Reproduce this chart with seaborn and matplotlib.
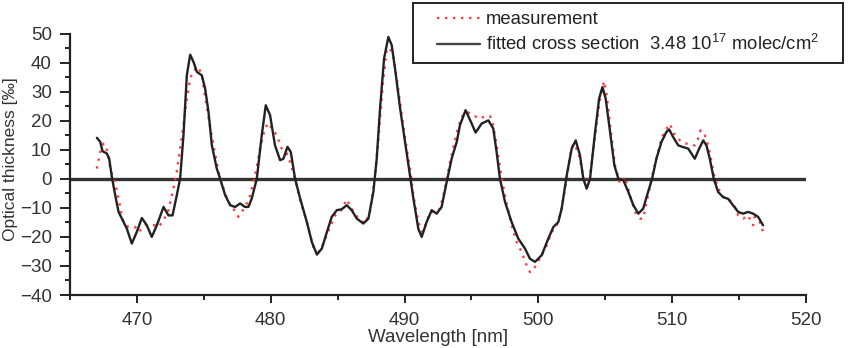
import numpy as np
import pandas as pd
import matplotlib
matplotlib.use("Agg")
import matplotlib.pyplot as plt
from matplotlib.ticker import MultipleLocator
from matplotlib.patches import Rectangle
import seaborn as sns

# ---- data ----
fit_wl = [467.01, 467.26, 467.43, 467.75, 467.93, 468.13, 468.38, 468.63, 469.0, 469.25,
          469.62, 469.99, 470.37, 470.74, 471.11, 471.49, 471.99, 472.36, 472.66, 472.98,
          473.23, 473.48, 473.73, 473.98, 474.23, 474.48, 474.85, 475.1, 475.35, 475.6,
          475.97, 476.22, 476.6, 476.97, 477.34, 477.71, 478.08, 478.33, 478.58, 478.96,
          479.33, 479.63, 479.95, 480.32, 480.7, 480.95, 481.25, 481.5, 481.82, 482.2,
          482.7, 483.07, 483.45, 483.82, 484.2, 484.56, 484.94, 485.3, 485.68, 486.05,
          486.43, 486.92, 487.3, 487.67, 487.92, 488.17, 488.47, 488.79, 489.04, 489.29,
          489.67, 490.04, 490.41, 490.66, 491.03, 491.28, 491.65, 492.03, 492.4, 492.77,
          493.15, 493.52, 493.9, 494.14, 494.56, 494.96, 495.31, 495.76, 496.26, 496.63,
          496.88, 497.13, 497.51, 498.0, 498.5, 499.0, 499.37, 499.75, 500.25, 500.74,
          501.12, 501.49, 501.74, 502.12, 502.49, 502.79, 503.11, 503.36, 503.61, 503.86,
          504.24, 504.54, 504.79, 505.03, 505.36, 505.68, 505.98, 506.35, 506.72, 507.1,
          507.47, 507.83, 508.2, 508.5, 508.82, 509.2, 509.57, 509.77, 510.07, 510.45,
          510.82, 511.19, 511.44, 511.69, 512.02, 512.32, 512.56, 512.81, 513.11, 513.43,
          513.8, 514.18, 514.55, 514.93, 515.3, 515.67, 516.05, 516.42, 516.79]
fit_od = [14.1, 12.7, 9.5, 8.7, 6.9, 0.6, -5.7, -11.4, -14.9, -17.2,
          -22.3, -18.3, -13.5, -16.0, -20.0, -16.0, -9.7, -12.6, -12.6, -5.7,
          0.1, 15.0, 35.6, 42.7, 40.2, 36.8, 35.6, 31.0, 23.0, 11.5,
          3.5, 0.0, -5.7, -9.1, -9.7, -8.5, -9.7, -9.7, -6.8, 0.0,
          15.0, 25.3, 21.9, 11.5, 6.4, 6.9, 11.0, 9.2, 0.0, -6.8,
          -14.9, -21.7, -26.1, -24.0, -18.3, -13.1, -10.8, -10.5, -9.1, -10.8,
          -13.7, -15.4, -13.7, -4.5, 6.9, 24.2, 41.4, 48.8, 46.0, 37.9,
          24.2, 12.7, 1.2, -6.8, -17.2, -20.0, -14.9, -10.8, -12.0, -9.7,
          -1.1, 6.9, 12.7, 18.4, 23.6, 19.6, 15.9, 19.0, 20.1, 17.3,
          9.2, 0.0, -8.0, -14.9, -20.6, -24.0, -27.5, -28.6, -26.3, -20.6,
          -16.6, -14.9, -10.3, 1.2, 10.4, 13.2, 8.1, 0.0, -3.4, 0.0,
          16.1, 27.6, 31.6, 27.6, 16.1, 4.6, 0.0, -0.5, -4.5, -9.1,
          -12.0, -10.3, -4.5, 0.0, 6.9, 12.7, 16.1, 17.0, 14.4, 11.5,
          10.9, 10.4, 8.7, 6.9, 10.4, 13.2, 11.5, 6.9, 0.0, -4.5,
          -6.3, -6.9, -9.1, -11.4, -12.0, -11.4, -12.0, -13.1, -16.0]

meas_wl = [467.0, 467.13, 467.26, 467.5, 467.68, 467.88, 468.0, 468.38, 468.63, 468.82,
           469.0, 469.37, 469.87, 470.12, 470.37, 470.62, 470.99, 471.36, 471.61, 471.99,
           472.36, 472.73, 472.98, 473.23, 473.48, 473.73, 473.98, 474.23, 474.6, 474.85,
           475.1, 475.35, 475.72, 476.1, 476.47, 476.84, 477.21, 477.59, 477.84, 478.21,
           478.46, 478.71, 478.96, 479.2, 479.5, 479.78, 480.03, 480.45, 480.82, 481.2,
           481.45, 481.82, 482.2, 482.7, 483.2, 483.57, 483.95, 484.32, 484.81, 485.19,
           485.68, 486.05, 486.55, 487.05, 487.42, 487.8, 488.05, 488.37, 488.67, 488.92,
           489.17, 489.42, 489.79, 490.16, 490.41, 490.66, 491.03, 491.33, 491.65, 491.9,
           492.27, 492.65, 493.02, 493.4, 493.77, 494.02, 494.39, 494.76, 495.14, 495.51,
           495.89, 496.38, 496.63, 496.88, 497.26, 497.63, 498.0, 498.38, 498.75, 499.13,
           499.37, 499.62, 499.87, 500.25, 500.62, 501.0, 501.37, 501.74, 502.12, 502.37,
           502.62, 502.99, 503.36, 503.61, 503.86, 504.24, 504.61, 504.91, 505.11, 505.36,
           505.73, 506.1, 506.48, 506.85, 507.22, 507.6, 507.83, 508.2, 508.45, 508.82,
           509.2, 509.45, 509.82, 510.2, 510.45, 510.7, 511.07, 511.44, 511.69, 511.94,
           512.12, 512.44, 512.69, 512.94, 513.19, 513.56, 513.93, 514.31, 514.68, 514.93,
           515.3, 515.67, 516.05, 516.17, 516.55, 516.84]
meas_od = [3.5, 6.4, 9.2, 12.1, 11.3, 7.5, 3.5, -1.7, -6.8, -11.4,
           -14.9, -16.6, -16.6, -18.3, -17.2, -16.0, -16.0, -16.0, -16.6, -14.3,
           -10.8, -3.4, 2.4, 10.4, 18.4, 27.6, 34.5, 37.3, 38.5, 35.6,
           28.2, 21.3, 11.5, 2.4, -3.4, -8.0, -10.3, -13.1, -11.4, -8.5,
           -5.7, -1.1, 4.1, 10.4, 16.1, 19.2, 17.8, 15.0, 10.4, 8.7,
           5.8, 0.0, -7.5, -14.9, -23.8, -25.2, -22.3, -17.8, -12.6, -11.4,
           -7.1, -10.3, -13.7, -15.4, -11.4, 1.2, 13.8, 32.2, 44.8, 44.8,
           41.9, 34.5, 21.9, 10.4, 3.5, -5.7, -14.9, -18.3, -14.9, -11.4,
           -11.4, -10.3, -3.4, 5.8, 13.2, 18.0, 22.4, 22.8, 22.1, 20.7,
           21.2, 21.6, 18.4, 11.5, 0.0, -8.5, -16.0, -21.7, -25.2, -29.8,
           -32.1, -31.5, -29.2, -26.4, -23.0, -18.3, -16.0, -10.3, 0.0, 8.1,
           12.1, 9.2, 0.6, -2.8, 1.2, 14.9, 27.6, 33.6, 28.7, 18.4,
           4.6, -1.7, 0.6, -5.7, -11.4, -13.7, -13.7, -5.7, 0.0, 6.9,
           13.8, 16.4, 18.9, 15.0, 13.8, 12.7, 12.1, 11.5, 11.5, 13.8,
           16.7, 15.0, 11.5, 5.8, 0.0, -4.5, -6.9, -7.4, -9.7, -12.6,
           -13.7, -12.6, -16.0, -13.1, -14.9, -18.9]

x_ticks = [470, 480, 490, 500, 510, 520]
y_ticks = [-40, -30, -20, -10, 0, 10, 20, 30, 40, 50]

meas_label = "measurement"
fit_label = "fitted cross section  3.48 10$^{17}$ molec/cm$^{2}$"

# ---- style ----
sns.set_theme(style="ticks")
plt.rcParams["font.family"] = ["Liberation Sans", "DejaVu Sans"]
plt.rcParams["mathtext.fontset"] = "custom"
plt.rcParams["mathtext.rm"] = "Liberation Sans"
plt.rcParams["mathtext.it"] = "Liberation Sans:italic"
plt.rcParams["mathtext.default"] = "regular"

W, H = 863, 348
fig = plt.figure(figsize=(W / 100, H / 100), dpi=100)
ax = fig.add_axes([70 / W, 1 - 295 / H, (806 - 70) / W, (295 - 33.5) / H])

df_meas = pd.DataFrame({"wl": meas_wl, "od": meas_od})
df_fit = pd.DataFrame({"wl": fit_wl, "od": fit_od})

ax.axhline(0, color="#333333", lw=2.4, zorder=1)
sns.lineplot(data=df_meas, x="wl", y="od", ax=ax, color="#ff3b3b", lw=1.7,
             linestyle=(0, (1, 2.4)), label=meas_label, estimator=None, sort=False, zorder=2)
sns.lineplot(data=df_fit, x="wl", y="od", ax=ax, color="#222222", lw=1.7,
             label=fit_label, estimator=None, sort=False, zorder=3)

ax.set_xlim(465, 520)
ax.set_ylim(-40, 50)
ax.set_xticks(x_ticks)
ax.set_yticks(y_ticks)
ax.xaxis.set_minor_locator(MultipleLocator(5))
ax.yaxis.set_minor_locator(MultipleLocator(5))

for s in ["top", "right"]:
    ax.spines[s].set_visible(False)
for s in ["left", "bottom"]:
    ax.spines[s].set_linewidth(1.6)
    ax.spines[s].set_color("#222222")

ax.tick_params(axis="both", which="major", direction="out", width=1.4, colors="#222222",
               labelsize=13.5, labelcolor="#333333")
ax.tick_params(axis="x", which="major", length=5.5, pad=7)
ax.tick_params(axis="y", which="major", length=7.5, pad=5.5)
ax.tick_params(axis="both", which="minor", direction="out", width=1.4, length=3.5, colors="#222222")

ax.set_xlabel("Wavelength [nm]", fontsize=13.5, color="#333333", labelpad=0)
ax.set_ylabel("Optical thickness [‰]", fontsize=12.5, color="#333333")
ax.yaxis.set_label_coords((18 - 70) / (806 - 70), 0.52)

leg = ax.legend(loc="upper left", bbox_to_anchor=(437 / W, 1 - 11 / H),
                bbox_transform=fig.transFigure, borderaxespad=0, frameon=False,
                fontsize=13.3, handlelength=2.35, handletextpad=0.3,
                labelspacing=0.32, borderpad=0)
for t in leg.get_texts():
    t.set_color("#222222")
leg.get_lines()[1].set_color("#444444")

box = Rectangle((413 / W, 1 - 63 / H), (843 - 413) / W, 60 / H, transform=fig.transFigure,
                fill=False, edgecolor="#222222", linewidth=1.4)
fig.add_artist(box)

fig.savefig("out.png", dpi=100)
